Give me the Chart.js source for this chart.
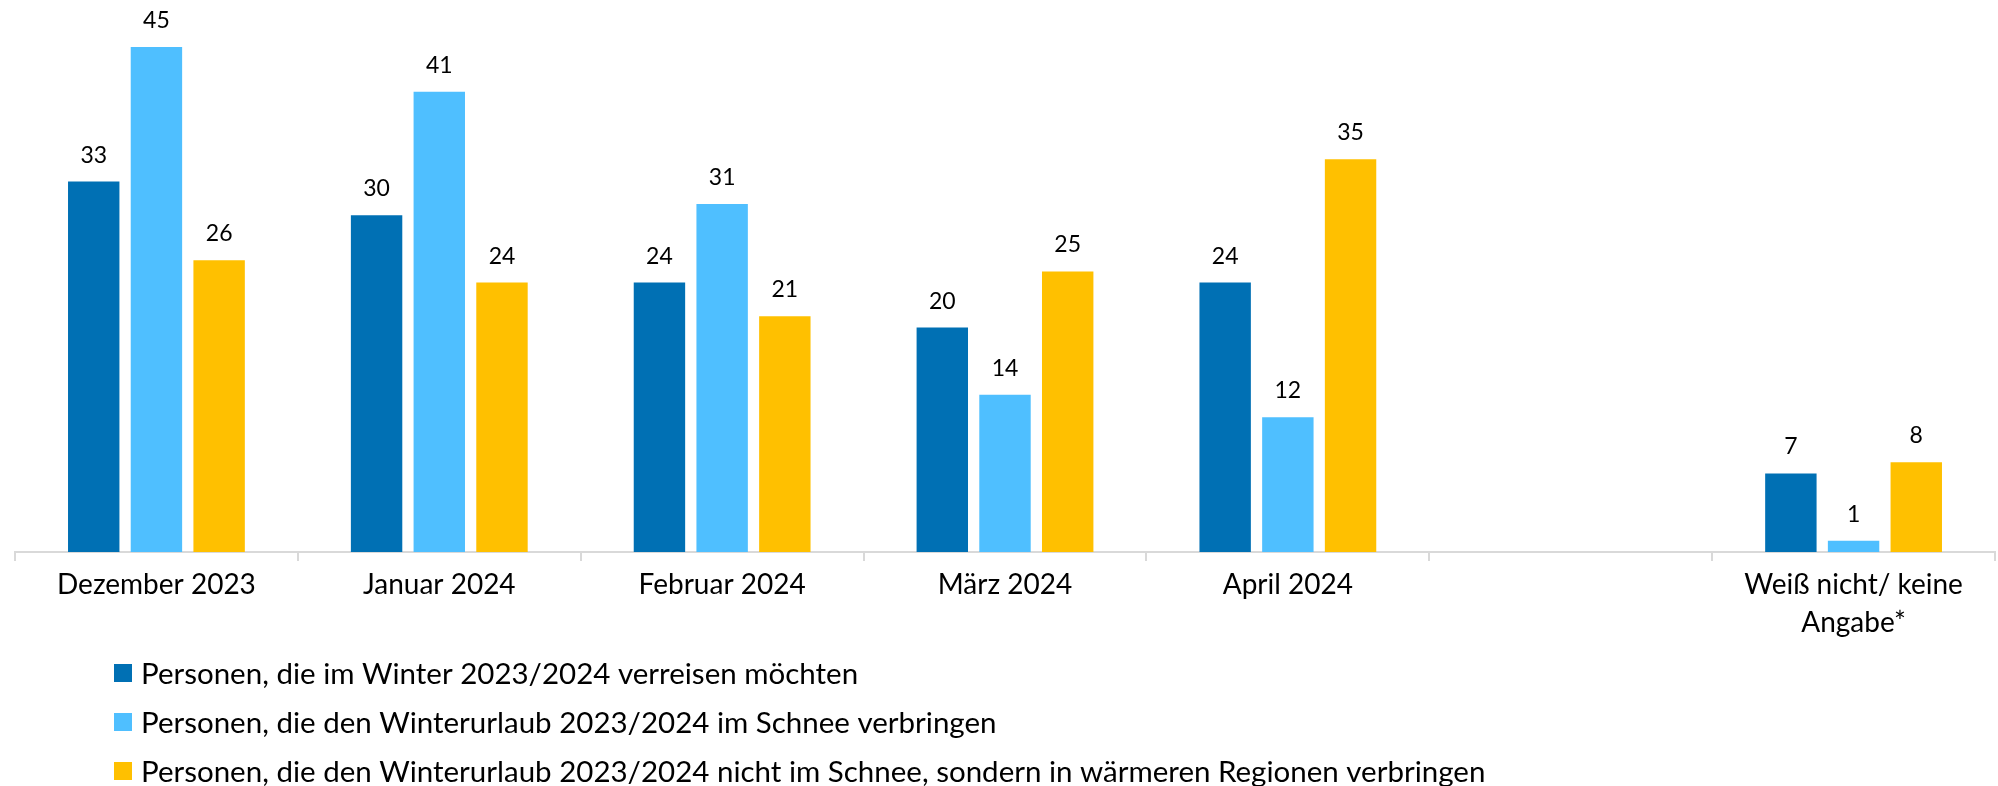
<!DOCTYPE html>
<html>
<head>
<meta charset="utf-8">
<script src="https://cdn.jsdelivr.net/npm/chart.js@4.4.0/dist/chart.umd.min.js"></script>
<style>
  html, body { margin: 0; padding: 0; background: #fff; }
  #wrap { width: 1998px; height: 786px; }
</style>
</head>
<body>
<div id="wrap"><canvas id="winterChart"></canvas></div>
<script>
  // data
  const categories = ['Dezember 2023', 'Januar 2024', 'Februar 2024', 'März 2024', 'April 2024', '', ['Weiß nicht/ keine', 'Angabe*']];
  const seriesNames = [
    'Personen, die im Winter 2023/2024 verreisen möchten',
    'Personen, die den Winterurlaub 2023/2024 im Schnee verbringen',
    'Personen, die den Winterurlaub 2023/2024 nicht im Schnee, sondern in wärmeren Regionen verbringen'
  ];
  const travelWish = [33, 30, 24, 20, 24, null, 7];
  const snowHoliday = [45, 41, 31, 14, 12, null, 1];
  const warmHoliday = [26, 24, 21, 25, 35, null, 8];
  const colors = ['#0070B4', '#4FBFFF', '#FFC000'];

  Chart.defaults.font.family = 'Lato';

  // value labels above the bars
  const valueLabels = {
    id: 'valueLabels',
    afterDatasetsDraw(chart) {
      const ctx = chart.ctx;
      ctx.save();
      ctx.font = '23px Lato';
      ctx.fillStyle = '#000';
      ctx.textAlign = 'center';
      ctx.textBaseline = 'alphabetic';
      chart.data.datasets.forEach((ds, i) => {
        chart.getDatasetMeta(i).data.forEach((bar, j) => {
          if (ds.data[j] == null) return;
          ctx.fillText(ds.data[j], bar.x, bar.y - 19);
        });
      });
      ctx.restore();
    }
  };

  // vertical legend under the axis
  const stackedLegend = {
    id: 'stackedLegend',
    afterDraw(chart) {
      const ctx = chart.ctx;
      ctx.save();
      ctx.font = '29.5px Lato';
      ctx.textBaseline = 'middle';
      ctx.textAlign = 'left';
      chart.data.datasets.forEach((ds, i) => {
        const y = 673 + i * 49;
        ctx.fillStyle = ds.backgroundColor;
        ctx.fillRect(114, y - 9, 18, 18);
        ctx.fillStyle = '#000';
        ctx.fillText(ds.label, 141, y + 1);
      });
      ctx.restore();
    }
  };

  new Chart(document.getElementById('winterChart'), {
    type: 'bar',
    data: {
      labels: categories,
      datasets: [
        { label: seriesNames[0], data: travelWish, backgroundColor: colors[0] },
        { label: seriesNames[1], data: snowHoliday, backgroundColor: colors[1] },
        { label: seriesNames[2], data: warmHoliday, backgroundColor: colors[2] }
      ]
    },
    options: {
      responsive: true,
      maintainAspectRatio: false,
      animation: false,
      categoryPercentage: 0.665,
      barPercentage: 0.82,
      layout: { padding: { left: 15, right: 3, top: 2, bottom: 0 } },
      plugins: {
        legend: { display: false },
        tooltip: { enabled: false }
      },
      scales: {
        x: {
          grid: { display: true, drawOnChartArea: false, offset: true, tickLength: 9, color: '#D9D9D9', lineWidth: 2 },
          border: { display: true, color: '#D9D9D9', width: 2 },
          ticks: { color: '#000', font: { size: 28, lineHeight: 1.35 }, padding: 5, maxRotation: 0, autoSkip: false },
          afterFit(scale) { scale.height = 234; }
        },
        y: {
          display: false,
          min: 0,
          max: 49
        }
      }
    },
    plugins: [valueLabels, stackedLegend]
  });
</script>
</body>
</html>
